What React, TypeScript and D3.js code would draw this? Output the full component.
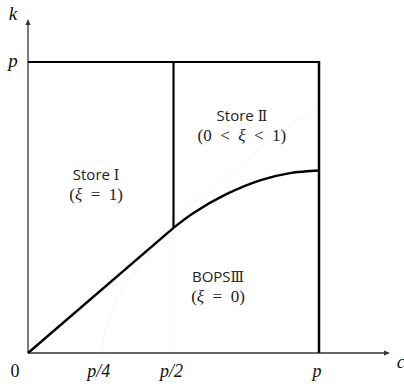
import { useMemo } from 'react';
import * as d3 from 'd3';

// boundary between BOPS and store regions (c/p, k/p)
const boundaryC = [0, 0.5, 0.57, 0.68, 0.8, 0.9, 1];
const boundaryK = [0, 0.43, 0.482, 0.545, 0.594, 0.618, 0.627];

// faint guide arc left in the original figure
const arcC = [0.253, 0.282, 0.333, 0.412, 0.557, 0.694, 0.866, 1.0];
const arcK = [0, 0.131, 0.234, 0.337, 0.509, 0.612, 0.759, 0.845];

const tickValues = [0, 0.25, 0.5, 1];
const tickLabels = ['0', 'p/4', 'p/2', 'p'];
const yTickValues = [1];
const yTickLabels = ['p'];

const regionNames = ['Store', 'Store', 'BOPS'];
const regionNumerals = ['Ⅰ', 'Ⅱ', 'Ⅲ'];
const regionConds = ['(ξ = 1)', '(0 < ξ < 1)', '(ξ = 0)'];
const regionAnchorC = [0.234, 0.735, 0.653];
const regionAnchorK = [0.595, 0.797, 0.244];

const W = 404;
const H = 388;
const MATH = "'Liberation Serif', 'DejaVu Serif', serif";
const SANS = "'Open Sans', 'Noto Sans', sans-serif";

const App = () => {
  const x = d3.scaleLinear().domain([0, 1]).range([28, 319]);
  const y = d3.scaleLinear().domain([0, 1]).range([353, 62]);

  // straight part up to p/2, smooth concave part after it
  const straight = d3.line<number>()
    .x(i => x(boundaryC[i]))
    .y(i => y(boundaryK[i]));
  const bend = d3.line<number>()
    .x(i => x(boundaryC[i]))
    .y(i => y(boundaryK[i]))
    .curve(d3.curveCatmullRom.alpha(0.5));

  const arc = d3.line<number>()
    .x(i => x(arcC[i]))
    .y(i => y(arcK[i]))
    .curve(d3.curveMonotoneY);

  const idx = boundaryC.map((_, i) => i);
  const splitAt = boundaryC.indexOf(0.5);
  const straightPath = useMemo(() => straight(idx.slice(0, splitAt + 1)), []);
  const bendPath = useMemo(() => bend(idx.slice(splitAt)), []);
  const arcPath = useMemo(() => arc(arcC.map((_, i) => i)), []);
  const splitK = boundaryK[splitAt];

  const mathText = (s: string) =>
    s.split('').map((ch, i) => {
      if (ch === 'ξ' || ch === 'p') return <tspan key={i} fontStyle="italic">{ch}</tspan>;
      if (ch === ' ') return <tspan key={i}>{'\u2002'}</tspan>;
      return <tspan key={i}>{ch}</tspan>;
    });

  return (
    <svg width={W} height={H} style={{ position: 'absolute', left: 0, top: 0, background: '#fff' }}>
      {/* faint guides */}
      <path d={arcPath || ''} fill="none" stroke="#f4f4f4" strokeWidth={1} />
      <line x1={x(0.5)} x2={x(0.5)} y1={y(0)} y2={y(splitK)} stroke="#f5f5f5" strokeWidth={1} />

      {/* axes */}
      <line x1={x(0)} x2={386} y1={y(0)} y2={y(0)} stroke="#333" strokeWidth={1.3} />
      <path d={`M390,${y(0)} L384,${y(0) - 2.6} L384,${y(0) + 2.6} Z`} fill="#333" />
      <line x1={x(0)} x2={x(0)} y1={y(0)} y2={24} stroke="#333" strokeWidth={1.3} />
      <path d={`M${x(0)},19 L${x(0) - 2.6},25 L${x(0) + 2.6},25 Z`} fill="#333" />

      {/* region boundaries */}
      <line x1={x(0)} x2={x(1)} y1={y(1)} y2={y(1)} stroke="#000" strokeWidth={2.2} />
      <line x1={x(0.5)} x2={x(0.5)} y1={y(1)} y2={y(splitK)} stroke="#000" strokeWidth={2.2} />
      <line x1={x(1)} x2={x(1)} y1={y(1) - 1} y2={y(0)} stroke="#000" strokeWidth={2.5} />
      <path d={straightPath || ''} fill="none" stroke="#000" strokeWidth={2.4} />
      <path d={bendPath || ''} fill="none" stroke="#000" strokeWidth={2.4} />

      {/* tick labels */}
      {tickValues.map((v, i) => (
        <text key={i} x={v === 0 ? x(v) - 13 : x(v) - 2} y={377} fontFamily={MATH} fontSize={18}
          textAnchor="middle" fill="#111" fontStyle={v === 0 ? 'normal' : 'italic'}>
          {tickLabels[i]}
        </text>
      ))}
      {yTickValues.map((v, i) => (
        <text key={i} x={13} y={y(v) + 5} fontFamily={MATH} fontSize={19} textAnchor="middle"
          fontStyle="italic" fill="#111">{yTickLabels[i]}</text>
      ))}
      <text x={13} y={20} fontFamily={MATH} fontSize={19} fontStyle="italic" textAnchor="middle" fill="#111">k</text>
      <text x={401} y={368} fontFamily={MATH} fontSize={19} fontStyle="italic" textAnchor="middle" fill="#111">c</text>

      {/* region labels */}
      {regionNames.map((n, i) => (
        <g key={i} transform={`translate(${x(regionAnchorC[i])},${y(regionAnchorK[i])})`} fill="#222">
          <text textAnchor="middle" fontSize={15} fontFamily={SANS}>
            {n}{i < 2 ? ' ' : ''}<tspan fontFamily="'DejaVu Serif', serif" fontSize={14}>{regionNumerals[i]}</tspan>
          </text>
          <text y={20} textAnchor="middle" fontSize={17} fontFamily={MATH}>{mathText(regionConds[i])}</text>
        </g>
      ))}
    </svg>
  );
};

export default App;
